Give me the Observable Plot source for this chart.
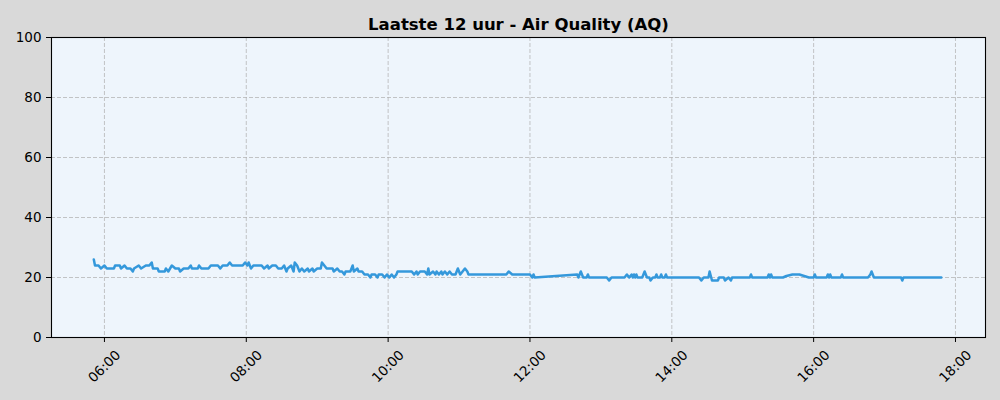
<!DOCTYPE html>
<html><head><meta charset="utf-8">
<script src="https://cdn.jsdelivr.net/npm/d3@7"></script>
<script src="https://cdn.jsdelivr.net/npm/@observablehq/plot@0.6"></script>
<style>body{margin:0;background:#d9d9d9;} svg{display:block}</style>
</head><body><div id="chart"></div>
<script>
const title = "Laatste 12 uur - Air Quality (AQ)";
const times = [
"05:51","05:52","05:55","05:57","06:00","06:02","06:08","06:09","06:13","06:14",
"06:17","06:19","06:22","06:24","06:25","06:29","06:31","06:35","06:38","06:40",
"06:41","06:45","06:46","06:51","06:52","06:54","06:57","07:00","07:03","07:04",
"07:07","07:11","07:13","07:14","07:19","07:20","07:22","07:28","07:30","07:36",
"07:38","07:40","07:44","07:46","07:48","07:57","07:59","08:01","08:02","08:04",
"08:06","08:13","08:15","08:18","08:19","08:22","08:25","08:27","08:30","08:32",
"08:34","08:35","08:38","08:40","08:41","08:43","08:45","08:47","08:49","08:52",
"08:53","08:56","08:57","09:00","09:03","09:04","09:06","09:08","09:13","09:14",
"09:17","09:19","09:21","09:23","09:24","09:28","09:30","09:31","09:34","09:35",
"09:38","09:40","09:43","09:45","09:46","09:49","09:51","09:52","09:55","09:57",
"09:59","10:01","10:03","10:05","10:07","10:08","10:20","10:22","10:24","10:25",
"10:27","10:31","10:33","10:34","10:35","10:38","10:40","10:41","10:43","10:45",
"10:46","10:48","10:50","10:52","10:54","10:57","10:59","11:01","11:03","11:05",
"11:07","11:08","11:40","11:42","11:45","12:00","12:02","12:03","12:04","12:40",
"12:41","12:43","12:45","12:48","12:49","12:50","13:05","13:07","13:09","13:20",
"13:22","13:24","13:26","13:27","13:28","13:29","13:30","13:31","13:35","13:37",
"13:39","13:41","13:42","13:44","13:46","13:47","13:48","13:50","13:51","13:52",
"13:54","13:55","13:56","14:23","14:25","14:27","14:31","14:32","14:34","14:39",
"14:40","14:44","14:45","14:48","14:50","14:51","15:06","15:07","15:08","15:21",
"15:22","15:23","15:24","15:25","15:34","15:37","15:42","15:48","15:52","15:56",
"16:00","16:01","16:02","16:11","16:12","16:13","16:14","16:15","16:23","16:24",
"16:25","16:46","16:48","16:49","16:51","17:14","17:15","17:16","17:48"
];
const aq = [
26,24,24,23,24,23,23,24,24,23,
24,23,23,22,23,24,23,24,24,25,
23,23,22,22,23,22,24,23,23,22,
23,23,24,23,23,24,23,23,24,24,
23,24,24,25,24,24,25,24,25,23,
24,24,23,24,23,24,24,23,23,24,
22,23,24,22,25,24,22,23,22,23,
22,23,22,23,23,25,24,23,23,22,
23,22,22,21,22,22,24,22,23,22,
22,21,21,20,21,21,20,21,21,20,
21,20,21,20,21,22,22,21,22,21,
22,22,21,23,21,22,21,22,21,22,
21,22,21,22,21,21,23,21,22,23,
22,21,21,22,21,21,20,21,20,21,
20,22,20,20,21,20,20,19,20,20,
21,20,21,20,21,20,21,20,20,22,
20,20,19,20,20,21,20,20,21,20,
20,21,20,20,19,20,20,22,19,19,
20,20,19,20,19,20,20,21,20,20,
21,20,21,20,20,20.5,21,21,20.5,20,
20,21,20,20,21,20,21,20,20,21,
20,20,21,22,20,20,19,20,20
];
const xTicks = ["06:00","08:00","10:00","12:00","14:00","16:00","18:00"];
const yTicks = [0, 20, 40, 60, 80, 100];
const xDomain = ["05:15:12","18:25:24"];
const day = "2024-01-01";
const toDate = s => new Date(`${day}T${s.length === 5 ? s + ":00" : s}Z`);
const data = times.map((t, i) => ({t: toDate(t), v: aq[i]}));
const xTickDates = xTicks.map(toDate);
const fmt = d3.utcFormat("%H:%M");

const chart = Plot.plot({
  width: 1000,
  height: 400,
  marginTop: 37,
  marginBottom: 63,
  marginLeft: 51,
  marginRight: 15,
  style: {background: "#d9d9d9", fontFamily: "DejaVu Sans", color: "black", fontSize: "13px"},
  x: {type: "utc", domain: xDomain.map(toDate)},
  y: {domain: [0, 100]},
  marks: [
    Plot.frame({fill: "#eef5fc", stroke: null}),
    Plot.gridX(xTickDates, {stroke: "#b0b0b0", strokeOpacity: 0.9, strokeDasharray: "4,2", strokeWidth: 0.8}),
    Plot.gridY(yTicks, {stroke: "#b0b0b0", strokeOpacity: 0.9, strokeDasharray: "4,2", strokeWidth: 0.8}),
    Plot.line(data, {x: "t", y: "v", stroke: "#3498db", strokeWidth: 2.5, strokeLinejoin: "round"}),
    Plot.frame({stroke: "black", strokeWidth: 1.1}),
    Plot.axisY(yTicks, {tickSize: 5, tickPadding: 5, fontSize: 13.5, label: null, stroke: "black", fill: "black"}),
    Plot.axisX(xTickDates, {tickSize: 5, text: null, label: null, stroke: "black"}),
    Plot.text(xTickDates, {x: d => d, text: d => fmt(d), frameAnchor: "bottom", dy: 29, rotate: -45, fontSize: 13.5, textAnchor: "middle", lineAnchor: "middle", fill: "black"}),
    Plot.text([title], {text: d => d, frameAnchor: "top", dy: -8, lineAnchor: "bottom", fontWeight: "bold", fontSize: 16.5, fill: "black"})
  ]
});
document.getElementById("chart").append(chart);
</script>
</body></html>
